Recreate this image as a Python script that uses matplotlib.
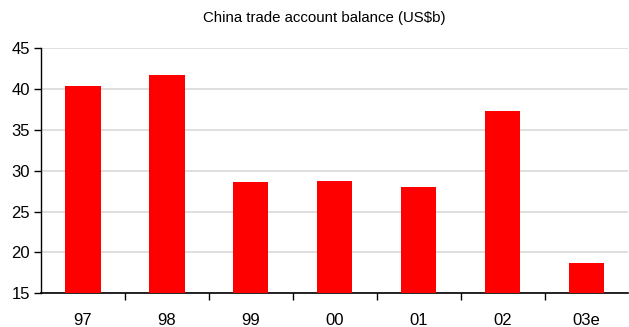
import numpy as np
import matplotlib.pyplot as plt

plt.rcParams["font.family"] = ["Liberation Sans", "DejaVu Sans"]

years = ["97", "98", "99", "00", "01", "02", "03e"]
balance = [40.4, 41.7, 28.6, 28.7, 28.0, 37.3, 18.7]

fig = plt.figure(figsize=(6.29, 3.27), dpi=100)
ax = fig.add_axes([0.0652, 0.103, 0.934, 0.749])

x = np.arange(len(years))
ax.bar(x, np.array(balance) - 15, bottom=15, width=0.42, color="#ff0000", zorder=3)

ax.set_xlim(-0.5, len(years) - 0.5)
ax.set_ylim(15, 45)
ax.set_yticks(range(15, 50, 5))
ax.yaxis.grid(True, color="#d9d9d9", linewidth=1.2, zorder=0)

ax.set_xticks(x)
ax.set_xticklabels(years)
ax.set_xticks(np.arange(0.5, len(years) - 1, 1), minor=True)
ax.tick_params(axis="x", which="major", length=0, pad=14, labelsize=12)
ax.tick_params(axis="x", which="minor", length=5, width=1, direction="out")
ax.tick_params(axis="y", length=5, width=1, labelsize=12, pad=3)

for side in ["top", "right"]:
    ax.spines[side].set_visible(False)
ax.spines["left"].set_linewidth(1)
ax.spines["bottom"].set_linewidth(1.2)

fig.text(0.516, 0.945, "China trade account balance (US$b)", ha="center", va="center", fontsize=10.8)

fig.savefig("out.png", dpi=100)
